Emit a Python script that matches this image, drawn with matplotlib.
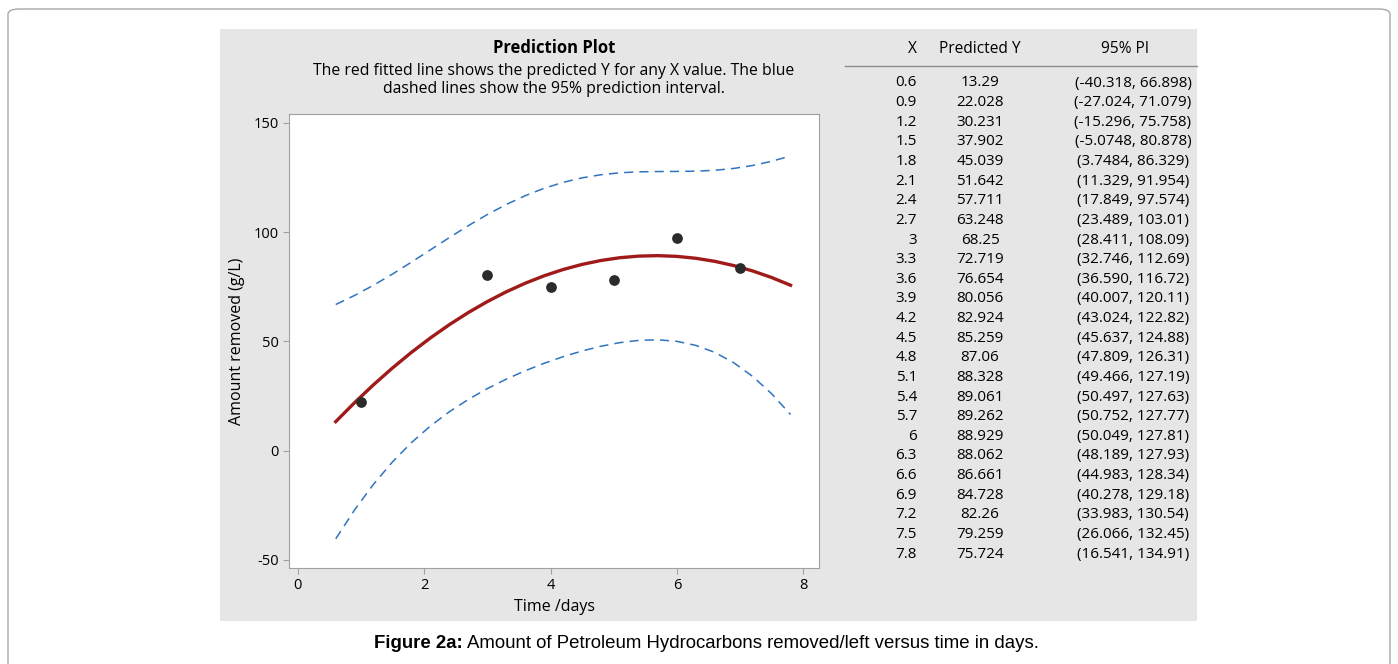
import numpy as np
import matplotlib.pyplot as plt
from matplotlib.patches import FancyBboxPatch, Rectangle

plt.rcParams['font.family'] = ['Open Sans', 'DejaVu Sans']
plt.rcParams['axes.unicode_minus'] = False

# observed data
time_days = [1, 3, 4, 5, 6, 7]
amount = [22.2, 80.4, 74.9, 78.0, 97.5, 83.5]

# prediction table
x_pred = [0.6, 0.9, 1.2, 1.5, 1.8, 2.1, 2.4, 2.7, 3, 3.3, 3.6, 3.9, 4.2,
          4.5, 4.8, 5.1, 5.4, 5.7, 6, 6.3, 6.6, 6.9, 7.2, 7.5, 7.8]
x_labels = ['0.6', '0.9', '1.2', '1.5', '1.8', '2.1', '2.4', '2.7', '3', '3.3',
            '3.6', '3.9', '4.2', '4.5', '4.8', '5.1', '5.4', '5.7', '6', '6.3',
            '6.6', '6.9', '7.2', '7.5', '7.8']
y_pred = ['13.29', '22.028', '30.231', '37.902', '45.039', '51.642', '57.711',
          '63.248', '68.25', '72.719', '76.654', '80.056', '82.924', '85.259',
          '87.06', '88.328', '89.061', '89.262', '88.929', '88.062', '86.661',
          '84.728', '82.26', '79.259', '75.724']
pi_low = ['-40.318', '-27.024', '-15.296', '-5.0748', '3.7484', '11.329', '17.849',
          '23.489', '28.411', '32.746', '36.590', '40.007', '43.024', '45.637',
          '47.809', '49.466', '50.497', '50.752', '50.049', '48.189', '44.983',
          '40.278', '33.983', '26.066', '16.541']
pi_high = ['66.898', '71.079', '75.758', '80.878', '86.329', '91.954', '97.574',
           '103.01', '108.09', '112.69', '116.72', '120.11', '122.82', '124.88',
           '126.31', '127.19', '127.63', '127.77', '127.81', '127.93', '128.34',
           '129.18', '130.54', '132.45', '134.91']

W, H = 1398, 664
fig = plt.figure(figsize=(W / 100, H / 100), dpi=100)

def fx(px):
    return px / W

def fy(py):
    return 1 - py / H

# outer rounded frame
frame = FancyBboxPatch((fx(8), fy(700)), fx(1382), fy(9) - fy(700),
                       boxstyle="round,pad=0,rounding_size=0.008",
                       transform=fig.transFigure, fill=False,
                       edgecolor='#a8a8a8', linewidth=1.0, zorder=-20)
fig.patches.append(frame)

# gray panel
panel = Rectangle((fx(220), fy(621)), fx(977), fy(29) - fy(621),
                  transform=fig.transFigure, facecolor='#e6e6e6',
                  edgecolor='none', zorder=-10)
fig.patches.append(panel)

ax = fig.add_axes([fx(289), fy(568), fx(530), fy(114) - fy(568)])
ax.set_facecolor('white')

yp = [float(v) for v in y_pred]
lo = [float(v) for v in pi_low]
hi = [float(v) for v in pi_high]

ax.plot(x_pred, hi, color='#2f74c0', lw=1.1, dashes=(6, 4))
ax.plot(x_pred, lo, color='#2f74c0', lw=1.1, dashes=(6, 4))
ax.plot(x_pred, yp, color='#a01a1a', lw=2.4)
ax.scatter(time_days, amount, s=45, color='#2b2b2b', zorder=5)

ax.set_xlim(-0.14, 8.25)
ax.set_ylim(-53.7, 154.1)
ax.set_xticks([0, 2, 4, 6, 8])
ax.set_yticks([-50, 0, 50, 100, 150])
for s in ax.spines.values():
    s.set_color('#a0a0a0')
ax.tick_params(colors='#a0a0a0', labelcolor='black', labelsize=10.5, length=4)
ax.set_xlabel('Time /days', fontsize=11.5, labelpad=4)
ax.set_ylabel('Amount removed (g/L)', fontsize=11.5, labelpad=6)

# titles
fig.text(fx(554), fy(48), 'Prediction Plot', ha='center', va='center',
         fontsize=12, fontweight='bold')
fig.text(fx(554), fy(80), 'The red fitted line shows the predicted Y for any X value. The blue\n'
         'dashed lines show the 95% prediction interval.', ha='center', va='center',
         fontsize=11.3, linespacing=1.2)

# table
fig.text(fx(917), fy(49), 'X', ha='right', va='center', fontsize=11.2)
fig.text(fx(980), fy(49), 'Predicted Y', ha='center', va='center', fontsize=11.2)
fig.text(fx(1125), fy(49), '95% PI', ha='center', va='center', fontsize=11.2)
fig.add_artist(plt.Line2D([fx(845), fx(1197)], [fy(66), fy(66)],
                          transform=fig.transFigure, color='#8c8c8c', lw=1))
for i in range(len(x_labels)):
    yy = fy(83 + i * 19.63)
    fig.text(fx(917), yy, x_labels[i], ha='right', va='center', fontsize=11)
    fig.text(fx(980), yy, y_pred[i], ha='center', va='center', fontsize=11)
    fig.text(fx(1133), yy, '(' + pi_low[i] + ', ' + pi_high[i] + ')',
             ha='center', va='center', fontsize=11)

# caption
t1 = fig.text(fx(374), fy(644), 'Figure 2a:', ha='left', va='center',
              fontsize=13.4, fontweight='bold', family='Liberation Sans')
fig.canvas.draw()
bb = t1.get_window_extent()
fig.text(bb.x1 / W + 0.003, fy(644), 'Amount of Petroleum Hydrocarbons removed/left versus time in days.',
         ha='left', va='center', fontsize=13.4, family='Liberation Sans')

fig.savefig('out.png', dpi=100)
